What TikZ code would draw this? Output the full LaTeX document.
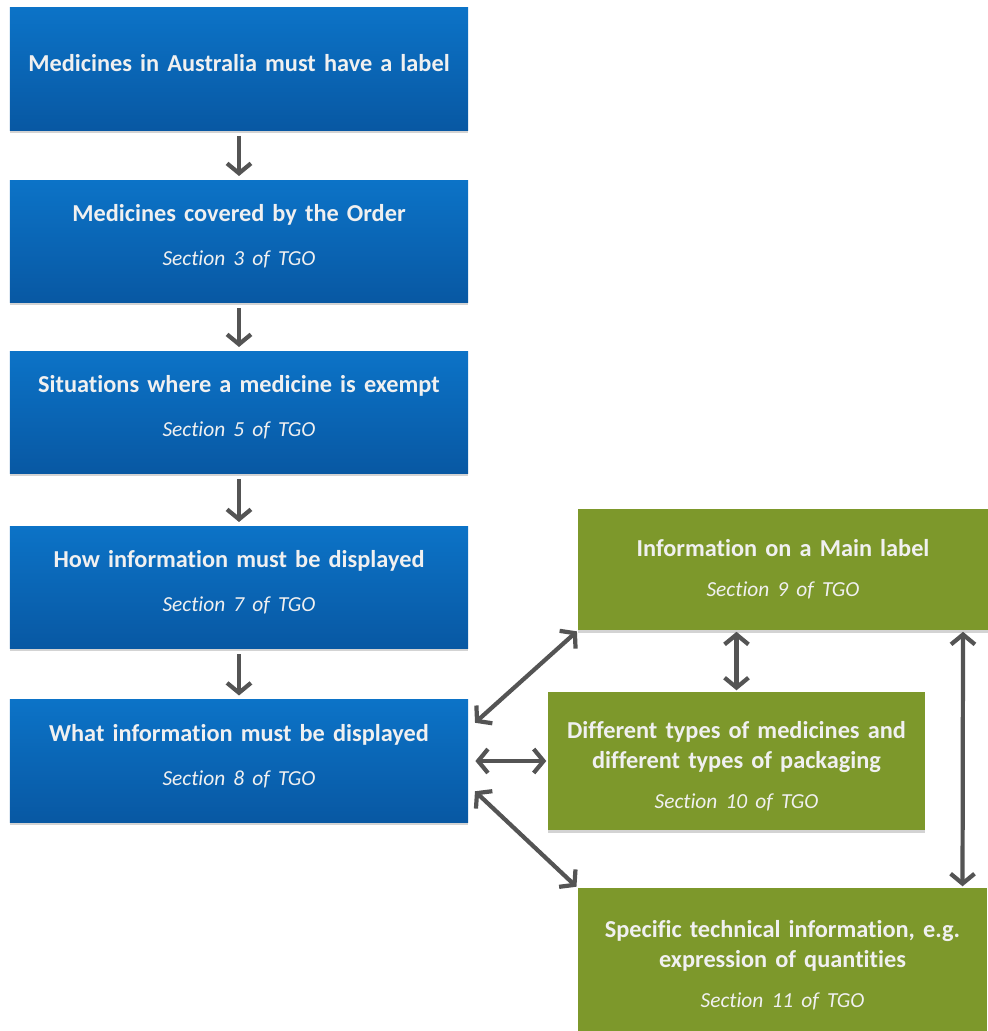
\documentclass[tikz,border=0pt]{standalone}
\usepackage{fontspec}
\setmainfont{Carlito}[Ligatures={NoCommon}]
\newfontfamily\sectfont{Carlito}[Scale=0.88, Ligatures={NoCommon}]
\usepackage{xcolor}
\usepackage{tikz}
\usetikzlibrary{arrows.meta, positioning, shadows}

\definecolor{blueTop}{HTML}{0C73C7}
\definecolor{blueBottom}{HTML}{0858A3}
\definecolor{greenBox}{HTML}{7D982B}
\definecolor{arrowGrey}{HTML}{545454}

\begin{document}
\begin{tikzpicture}[
      x=0.025cm, y=-0.025cm,
      blue box/.style={top color=blueTop, bottom color=blueBottom, minimum width=11.45cm, minimum height=3.05cm, text width=11.2cm, align=center, drop shadow={opacity=0.35, shadow xshift=0pt, shadow yshift=-2pt}, execute at end node={\rule[-9pt]{0pt}{9pt}}},
      green box/.style={fill=greenBox, minimum width=10.2cm, minimum height=3.03cm, text width=10cm, align=center, drop shadow={opacity=0.35, shadow xshift=0pt, shadow yshift=-2pt}},
      arrow/.style={-{Straight Barb[length=7pt, width=17pt]}, line width=3pt, color=arrowGrey, shorten >=3pt, shorten <=4pt},
      both/.style={arrow, {Straight Barb[length=7pt, width=17pt]}-{Straight Barb[length=7pt, width=17pt]}, shorten >=1pt, shorten <=1pt},
      every node/.style={font=\fontsize{17.3}{21.5}\selectfont\bfseries, text=white!94!black}
      ]
    \useasboundingbox (0,0) rectangle (987,1031);
    \newcommand{\sect}[2][10pt]{\\[#1]{\sectfont\mdseries\itshape #2}}

    % Nodes
    \node[blue box] (label) at (239, 69) {Medicines in Australia must have a label\rule[-4pt]{0pt}{0pt}};
    \node[blue box] (covered) at (239, 241.5) {Medicines covered by the Order\sect{Section 3 of TGO}};
    \node[blue box] (exempt) at (239, 412.5) {Situations where a medicine is exempt\sect{Section 5 of TGO}};
    \node[blue box] (display) at (239, 587.5) {How information must be displayed\sect{Section 7 of TGO}};
    \node[blue box] (what) at (239, 761) {What information must be displayed\sect{Section 8 of TGO}};

    \node[green box] (mainlabel) at (783, 569.5) {Information on a Main label\sect[7pt]{Section 9 of TGO}};
    \node[green box, minimum width=9.425cm, minimum height=3.45cm, text width=9cm] (types) at (736.5, 761) {\rule{0pt}{20pt}Different types of medicines and\\different types of packaging\sect[7pt]{Section 10 of TGO}};
    \node[green box, minimum height=3.6cm] (technical) at (782.5, 960) {\rule{0pt}{20pt}Specific technical information, e.g.\\expression of quantities\sect[7pt]{Section 11 of TGO}};

    % Arrows
    \draw[arrow] (label.south) -- (covered.north);
    \draw[arrow] (covered.south) -- (exempt.north);
    \draw[arrow] (exempt.south) -- (display.north);
    \draw[arrow] (display.south) -- (what.north);

    \draw[both] ([yshift=-0.6cm, xshift=4pt]what.north east) -- (mainlabel.south west);
    \draw[both] ([xshift=4pt]what.east) -- (types.west);
    \draw[both] ([yshift=0.8cm, xshift=4pt]what.south east) -- (technical.north west);
    \draw[both] (types.north) -- (types.north |- mainlabel.south);
    \draw[both] ([xshift=-0.625cm]mainlabel.south east) -- ([xshift=-0.625cm]technical.north east);

    \end{tikzpicture}
\end{document}
